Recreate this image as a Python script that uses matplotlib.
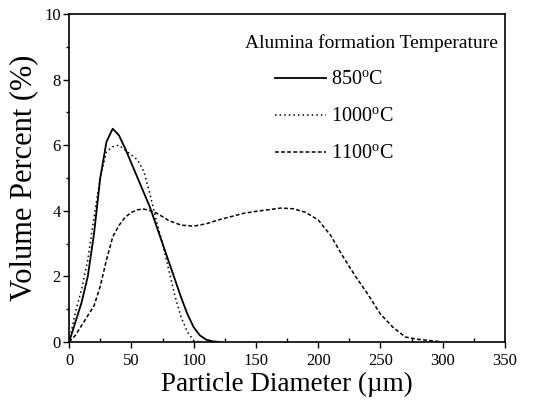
import numpy as np
import matplotlib
matplotlib.use('Agg')
import matplotlib.pyplot as plt
from matplotlib.ticker import MultipleLocator

plt.rcParams['font.family'] = ['Liberation Serif', 'DejaVu Serif']
plt.rcParams['mathtext.fontset'] = 'custom'
plt.rcParams['mathtext.rm'] = 'Liberation Serif'

# Particle size distributions
x_850 = [0, 5, 10, 15, 20, 25, 30, 35, 40, 45, 50, 55, 60, 65, 70, 75, 80, 85, 90, 95, 100, 105, 110, 115, 120]
y_850 = [0, 0.6, 1.2, 2.0, 3.3, 5.0, 6.1, 6.5, 6.3, 5.9, 5.45, 5.0, 4.55, 4.1, 3.55, 3.0, 2.45, 1.9, 1.35, 0.85,
         0.45, 0.2, 0.07, 0.02, 0]

x_1000 = [0, 5, 10, 15, 20, 25, 30, 35, 40, 45, 50, 55, 60, 65, 70, 75, 80, 85, 90, 95, 100, 105]
y_1000 = [0, 0.9, 1.6, 2.5, 3.8, 5.0, 5.8, 5.95, 6.0, 5.85, 5.7, 5.55, 5.2, 4.5, 3.7, 3.0, 2.2, 1.4, 0.75, 0.3,
          0.05, 0]

x_1100 = [0, 5, 10, 15, 20, 25, 30, 35, 40, 45, 50, 55, 60, 65, 70, 75, 80, 90, 100, 110, 120, 130, 140, 150,
          160, 170, 180, 190, 200, 210, 220, 230, 240, 250, 260, 270, 280, 290, 300]
y_1100 = [0, 0.2, 0.5, 0.8, 1.1, 1.7, 2.5, 3.2, 3.55, 3.8, 3.95, 4.03, 4.05, 4.0, 3.93, 3.82, 3.7, 3.56, 3.53,
          3.6, 3.72, 3.82, 3.92, 3.98, 4.03, 4.08, 4.06, 3.95, 3.72, 3.25, 2.6, 2.0, 1.45, 0.85, 0.45, 0.15, 0.08,
          0.04, 0.0]

labels = ['850$^{\\mathregular{o}}$C', '1000$^{\\mathregular{o}}$C', '1100$^{\\mathregular{o}}$C']

fig = plt.figure(figsize=(5.4, 4.09), dpi=100)
ax = fig.add_axes([0.128, 0.164, 0.807, 0.802])

ax.plot(x_850, y_850, color='black', lw=1.3, ls='-', label=labels[0])
ax.plot(x_1000, y_1000, color='black', lw=1.1, ls=(0, (1, 2)), label=labels[1])
ax.plot(x_1100, y_1100, color='black', lw=1.1, ls=(0, (2.5, 1.5)), label=labels[2])

ax.set_xlim(0, 350)
ax.set_ylim(0, 10)
ax.xaxis.set_major_locator(MultipleLocator(50))
ax.xaxis.set_minor_locator(MultipleLocator(25))
ax.yaxis.set_major_locator(MultipleLocator(2))
ax.yaxis.set_minor_locator(MultipleLocator(1))
ax.tick_params(axis='x', which='major', direction='out', length=4, width=1, labelsize=12, pad=4)
ax.tick_params(axis='x', which='minor', direction='in', length=3, width=1)
ax.tick_params(axis='y', which='major', direction='out', length=4, width=1, labelsize=12, pad=2)
ax.tick_params(axis='y', which='minor', direction='out', length=2, width=1)
for s in ax.spines.values():
    s.set_linewidth(1.2)

ax.set_xlabel('Particle Diameter (\u00b5m)', fontsize=19.5, labelpad=2)
ax.set_ylabel('Volume Percent (%)', fontsize=22, labelpad=4)

ax.text(0.403, 0.91, 'Alumina formation Temperature', transform=ax.transAxes, fontsize=14,
        ha='left', va='center')
ax.legend(loc='upper left', bbox_to_anchor=(0.455, 0.85), frameon=False, fontsize=14.5,
          handlelength=2.5, handletextpad=0.25, labelspacing=0.88, borderaxespad=0)

fig.savefig('out.png', dpi=100)
